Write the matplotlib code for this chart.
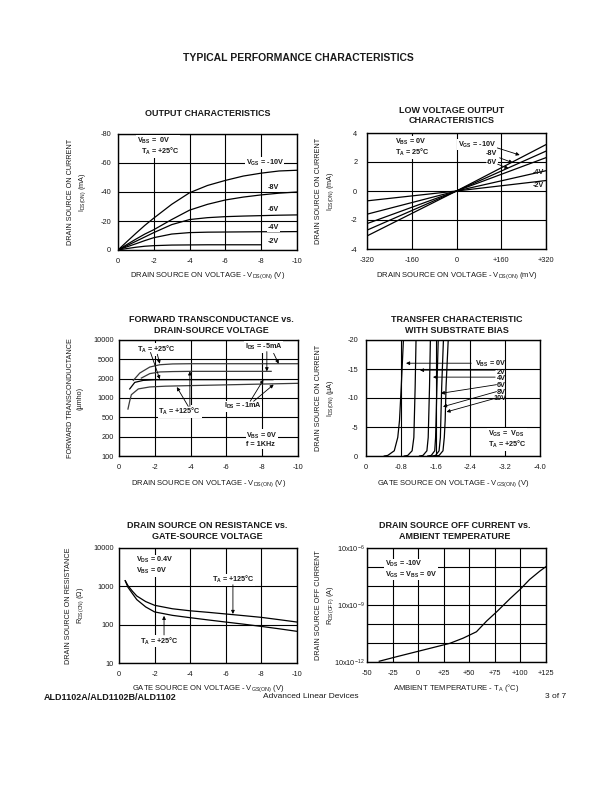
import numpy as np
import matplotlib.pyplot as plt

plt.rcParams['font.family'] = ['Liberation Sans', 'DejaVu Sans']
plt.rcParams['mathtext.fontset'] = 'custom'
plt.rcParams['mathtext.rm'] = 'Liberation Sans'
plt.rcParams['mathtext.it'] = 'Liberation Sans'
plt.rcParams['mathtext.bf'] = 'Liberation Sans:bold'
plt.rcParams['axes.unicode_minus'] = False

INK = '#1a1a1a'

# ---- output characteristics (VDS in V, ID in mA)
out_vds = [0, -0.5, -1, -1.5, -2, -3, -4, -5, -6, -7, -8, -9, -10]
out_id_10 = [0, -5.8, -11.5, -17, -22, -31.5, -39.5, -44.5, -48, -51, -53, -54.5, -55]
out_id_8 = [0, -3.8, -7.5, -11, -14, -21, -27.5, -31.5, -34.5, -36.5, -38, -39.2, -40]
out_id_6 = [0, -3, -6, -9, -12, -17.5, -21, -22.3, -23, -23.4, -23.7, -24, -24.2]
out_id_4 = [0, -2.2, -4.3, -6.5, -8.5, -11, -12, -12.3, -12.4, -12.5, -12.6, -12.6, -12.7]
out_vds_2 = [0, -0.5, -1, -1.5, -2, -3, -4, -5, -6, -7, -8]
out_id_2 = [0, -1, -1.9, -2.6, -3.0, -3.4, -3.5, -3.6, -3.6, -3.6, -3.6]

# ---- low voltage output (VDS in mV, ID in mA)
lv_vds = [-320, 0, 320]
lv_id_10 = [-3.1, 0, 3.2]
lv_id_8 = [-2.7, 0, 2.75]
lv_id_6 = [-2.25, 0, 2.3]
lv_id_4 = [-1.6, 0, 1.4]
lv_id_2 = [-0.68, 0, 0.72]

# ---- forward transconductance (umho)
gm_ticks = [100, 200, 500, 1000, 2000, 5000, 10000]
gm_v_25_5 = [-0.8, -1.16, -1.72, -2.28, -3, -4, -6, -8, -10]
gm_25_5 = [1880, 2610, 3470, 3870, 4020, 4060, 4060, 4060, 4060]
gm_v_125_5 = [-1.25, -1.72, -2.28, -3, -4, -6, -8.5]
gm_125_5 = [2060, 2540, 2750, 2800, 2830, 2830, 2830]
gm_v_25_1 = [-0.6, -0.88, -1.35, -2, -3, -5, -7, -8.6]
gm_25_1 = [1385, 1750, 1880, 1920, 1930, 1930, 1930, 1930]
gm_v_125_1 = [-0.5, -0.6, -0.69, -1.08, -1.72, -2.6, -4, -6, -8, -10]
gm_125_1 = [673, 901, 1125, 1385, 1486, 1528, 1560, 1603, 1648, 1693]

# ---- transfer characteristic (VGS in V, ID in uA)
tr_id = [0, -0.1, -0.9, -3.2, -6.1, -11.9, -20]
tr_v_0 = [-0.42, -0.5, -0.65, -0.73, -0.77, -0.81, -0.86]
tr_v_2 = [-0.88, -0.96, -1.06, -1.10, -1.11, -1.13, -1.15]
tr_v_4 = [-1.23, -1.31, -1.40, -1.43, -1.44, -1.46, -1.48]
tr_v_6 = [-1.42, -1.50, -1.58, -1.60, -1.61, -1.63, -1.66]
tr_v_8 = [-1.52, -1.60, -1.68, -1.71, -1.72, -1.74, -1.78]
tr_v_10 = [-1.60, -1.68, -1.77, -1.80, -1.82, -1.84, -1.89]
tr_labels = ['V$_{\\bf BS}$ = 0V', '2V', '4V', '6V', '8V', '10V']

# ---- on resistance (ohm)
ron_vgs = [-0.35, -0.5, -0.75, -1, -1.5, -2, -3, -4, -5, -6, -7, -8, -9, -10]
ron_125 = [1400, 1050, 750, 560, 400, 320, 260, 230, 210, 190, 172, 155, 135, 117]
ron_25 = [1400, 950, 650, 450, 290, 215, 175, 152, 133, 117, 103, 90, 78, 67]

# ---- off current (A) vs temperature
off_t = [-38, -21, -1.4, 18, 31, 44, 57, 67, 77, 90, 100, 109, 119, 125]
off_i = [1.1e-11, 1.9e-11, 3.5e-11, 6.4e-11, 9.6e-11, 1.8e-10, 3.9e-10, 1.44e-9,
         4.5e-9, 2.2e-8, 6.9e-8, 2.2e-7, 6.1e-7, 1.05e-6]

fig = plt.figure(figsize=(6.12, 7.92), dpi=100)


def rect(l, r, t, b):
    return [l / 612, 1 - b / 792, (r - l) / 612, (b - t) / 792]


def ftxt(x, y, s, **kw):
    kw.setdefault('color', INK)
    fig.text(x / 612, 1 - y / 792, s, **kw)


def style(ax, xticks, xlabels, yticks, ylabels, xpad=6, ypad=5):
    ax.set_xticks(xticks, xlabels)
    ax.set_yticks(yticks, ylabels)
    ax.minorticks_off()
    ax.grid(True, color='black', lw=0.8)
    ax.tick_params(length=0, labelsize=5.3, labelcolor=INK)
    ax.tick_params(axis='x', pad=xpad)
    ax.tick_params(axis='y', pad=ypad)
    for s in ax.spines.values():
        s.set_linewidth(1.0)


def labels(ax, xl, yl, xy=-0.225, yx=-0.23):
    ax.text(0.5, xy, xl, transform=ax.transAxes, ha='center', va='center',
            fontsize=5.5, color=INK)
    ax.text(yx, 0.5, yl, transform=ax.transAxes, ha='center', va='center',
            rotation=90, fontsize=5.2, color=INK, linespacing=1.5)


def note(ax, x, y, s, ha='left', bg=True, **kw):
    box = dict(facecolor='white', edgecolor='none', pad=0.4) if bg else None
    kw.setdefault('linespacing', 1.05)
    ax.text(x, y, s, ha=ha, va='center', fontsize=5.2, fontweight='bold',
            color=INK, bbox=box, zorder=4, **kw)


def arrow(ax, tail, head):
    ax.annotate('', xy=head, xytext=tail,
                arrowprops=dict(arrowstyle='-|>', color='black', lw=0.6,
                                mutation_scale=5, shrinkA=0, shrinkB=0),
                zorder=5)


LW = 0.9

ftxt(298, 58, 'TYPICAL PERFORMANCE CHARACTERISTICS', ha='center', va='center',
     fontsize=7.5, fontweight='bold')

# ---------------- panel 1
ax = fig.add_axes(rect(118, 297, 134, 250))
for ids in [out_id_10, out_id_8, out_id_6, out_id_4]:
    ax.plot(out_vds, ids, color='black', lw=LW)
ax.plot(out_vds_2, out_id_2, color='black', lw=LW)
ax.set_xlim(0, -10)
ax.set_ylim(0, -80)
style(ax, [0, -2, -4, -6, -8, -10], ['0', '-2', '-4', '-6', '-8', '-10'],
      [0, -20, -40, -60, -80], ['0', '-20', '-40', '-60', '-80'])
labels(ax, r'DRAIN SOURCE ON VOLTAGE - V$_{\rm DS(ON)}$ (V)',
       'DRAIN SOURCE ON CURRENT\n' + r'I$_{\rm DS(ON)}$ (mA)', xy=-0.224, yx=-0.226)
note(ax, -1.04, -71.5, r'V$_{\bf BS}$ =  0V' + '\n' + r'  T$_{\bf A}$ = +25°C')
note(ax, -8.2, -60, r'V$_{\bf GS}$ = -10V', ha='center')
for y, s in zip([-42.8, -27.8, -15.2, -5.9], ['-8V', '-6V', '-4V', '-2V']):
    note(ax, -8.7, y, s, ha='center')
ftxt(208, 113, 'OUTPUT CHARACTERISTICS', ha='center', va='center',
     fontsize=6.5, fontweight='bold')

# ---------------- panel 2
ax = fig.add_axes(rect(367, 546, 133, 249))
for ids in [lv_id_10, lv_id_8, lv_id_6, lv_id_4, lv_id_2]:
    ax.plot(lv_vds, ids, color='black', lw=LW)
ax.set_xlim(-320, 320)
ax.set_ylim(-4, 4)
style(ax, [-320, -160, 0, 160, 320], ['-320', '-160', '0', '+160', '+320'],
      [-4, -2, 0, 2, 4], ['-4', '-2', '0', '2', '4'], ypad=7)
labels(ax, r'DRAIN SOURCE ON VOLTAGE - V$_{\rm DS(ON)}$ (mV)',
       'DRAIN SOURCE ON CURRENT\n' + r'I$_{\rm DS(ON)}$ (mA)', xy=-0.233, yx=-0.233)
note(ax, -221, 3.0, r'V$_{\bf BS}$ = 0V' + '\n' + r'T$_{\bf A}$ = 25°C')
note(ax, 140, 3.2, r'V$_{\bf GS}$ = -10V', ha='right')
note(ax, 146, 2.56, '-8V', ha='right')
note(ax, 146, 2.0, '-6V', ha='right')
note(ax, 273, 1.28, '-4V', bg=False)
note(ax, 273, 0.38, '-2V', bg=False)
arrow(ax, (146, 2.97), (226, 2.48))
arrow(ax, (154, 2.29), (201, 1.95))
arrow(ax, (147, 1.85), (186, 1.55))
ftxt(452, 115.5, 'LOW VOLTAGE OUTPUT\nCHARACTERISTICS', ha='center', va='center',
     fontsize=6.5, fontweight='bold', linespacing=1.15)

# ---------------- panel 3
gm_log = np.log10(gm_ticks)


def gm_fwd(v):
    return np.interp(np.log10(np.clip(v, 1e-9, None)), gm_log, np.arange(7))


def gm_inv(p):
    return 10 ** np.interp(p, np.arange(7), gm_log)


ax = fig.add_axes(rect(119, 298, 340, 456))
ax.set_yscale('function', functions=(gm_fwd, gm_inv))
ax.plot(gm_v_25_5, gm_25_5, color='#3a3a3a', lw=LW)
ax.plot(gm_v_125_5, gm_125_5, color='#3a3a3a', lw=LW)
ax.plot(gm_v_25_1, gm_25_1, color='black', lw=LW)
ax.plot(gm_v_125_1, gm_125_1, color='#3a3a3a', lw=LW)
ax.set_xlim(0, -10)
ax.set_ylim(100, 10000)
style(ax, [0, -2, -4, -6, -8, -10], ['0', '-2', '-4', '-6', '-8', '-10'],
      gm_ticks, [str(t) for t in gm_ticks], ypad=3.5)
labels(ax, r'DRAIN SOURCE ON VOLTAGE - V$_{\rm DS(ON)}$ (V)',
       'FORWARD TRANSCONDUCTANCE\n(µmho)', xy=-0.235, yx=-0.244)
note(ax, -2.1, 7070, r'T$_{\bf A}$ = +25°C', ha='center')
arrow(ax, (-1.76, 6400), (-2.28, 1960))
arrow(ax, (-2.14, 6000), (-2.28, 4060))
note(ax, -3.4, 620, r'T$_{\bf A}$ = +125°C', ha='center')
arrow(ax, (-3.96, 741), (-3.96, 2830))
arrow(ax, (-3.87, 741), (-3.23, 1480))
note(ax, -8.07, 7800, r'I$_{\bf DS}$ = -5mA', ha='center')
arrow(ax, (-8.26, 6600), (-8.26, 2830))
arrow(ax, (-8.64, 6200), (-8.92, 4060))
note(ax, -6.9, 741, r'I$_{\bf DS}$ = -1mA', ha='center')
arrow(ax, (-7.33, 889), (-8.07, 1930))
arrow(ax, (-7.52, 889), (-8.64, 1620))
note(ax, -7.1, 180, r'V$_{\bf BS}$ = 0V' + '\n' + 'f = 1KHz')
ftxt(211, 325, 'FORWARD TRANSCONDUCTANCE vs.\nDRAIN-SOURCE VOLTAGE', ha='center',
     va='center', fontsize=6.5, fontweight='bold', linespacing=1.15)

# ---------------- panel 4
ax = fig.add_axes(rect(366, 540, 340, 456))
for vs in [tr_v_0, tr_v_2, tr_v_4, tr_v_6, tr_v_8, tr_v_10]:
    ax.plot(vs, tr_id, color='black', lw=LW)
ax.set_xlim(0, -4.0)
ax.set_ylim(0, -20)
style(ax, [0, -0.8, -1.6, -2.4, -3.2, -4.0], ['0', '-0.8', '-1.6', '-2.4', '-3.2', '-4.0'],
      [0, -5, -10, -15, -20], ['0', '-5', '-10', '-15', '-20'], ypad=5.5)
labels(ax, r'GATE SOURCE ON VOLTAGE - V$_{\rm GS(ON)}$ (V)',
       'DRAIN SOURCE ON CURRENT\n' + r'I$_{\rm DS(ON)}$ (µA)', xy=-0.235, yx=-0.234)
# one stacked label block, right aligned like the reference
note(ax, -3.22, -13.0, '\n'.join(tr_labels), ha='right', bg=False,
     multialignment='right', linespacing=0.92)
arrow(ax, (-2.42, -16.0), (-0.92, -16.0))
arrow(ax, (-2.97, -14.8), (-1.24, -14.8))
arrow(ax, (-2.97, -13.6), (-1.54, -13.6))
arrow(ax, (-3.0, -12.3), (-1.72, -10.8))
arrow(ax, (-3.0, -11.1), (-1.77, -8.5))
arrow(ax, (-2.95, -9.9), (-1.85, -7.6))
note(ax, -2.8, -2.85, r'V$_{\bf GS}$ =  V$_{\bf DS}$' + '\n' + r'T$_{\bf A}$ = +25°C')
ftxt(457, 325, 'TRANSFER CHARACTERISTIC\nWITH SUBSTRATE BIAS', ha='center',
     va='center', fontsize=6.5, fontweight='bold', linespacing=1.15)

# ---------------- panel 5
ax = fig.add_axes(rect(119, 297, 548, 663))
ax.set_yscale('log')
ax.plot(ron_vgs, ron_125, color='black', lw=LW)
ax.plot(ron_vgs, ron_25, color='black', lw=LW)
ax.set_xlim(0, -10)
ax.set_ylim(10, 10000)
style(ax, [0, -2, -4, -6, -8, -10], ['0', '-2', '-4', '-6', '-8', '-10'],
      [10, 100, 1000, 10000], ['10', '100', '1000', '10000'], ypad=3.5)
labels(ax, r'GATE SOURCE ON VOLTAGE - V$_{\rm GS(ON)}$ (V)',
       'DRAIN SOURCE ON RESISTANCE\n' + r'R$_{\rm DS(ON)}$ (Ω)', xy=-0.22, yx=-0.244)
note(ax, -0.98, 3470, r'V$_{\bf DS}$ = 0.4V' + '\n' + r'V$_{\bf BS}$ = 0V')
note(ax, -6.4, 1480, r'T$_{\bf A}$ = +125°C', ha='center')
arrow(ax, (-6.4, 1100), (-6.4, 190))
note(ax, -2.29, 37, r'T$_{\bf A}$ = +25°C', ha='center')
arrow(ax, (-2.53, 54), (-2.53, 170))
ftxt(207, 531, 'DRAIN SOURCE ON RESISTANCE vs.\nGATE-SOURCE VOLTAGE', ha='center',
     va='center', fontsize=6.5, fontweight='bold', linespacing=1.15)

# ---------------- panel 6
ax = fig.add_axes(rect(367, 546, 548, 662))
ax.set_yscale('log')
ax.plot(off_t, off_i, color='black', lw=LW)
ax.set_xlim(-50, 125)
ax.set_ylim(1e-11, 1e-5)
style(ax, [-50, -25, 0, 25, 50, 75, 100, 125],
      ['-50', '-25', '0', '+25', '+50', '+75', '+100', '+125'],
      [1e-11, 1e-10, 1e-9, 1e-8, 1e-7, 1e-6, 1e-5],
      ['10x10$^{-12}$', '', '', '10x10$^{-9}$', '', '', '10x10$^{-6}$'], ypad=1.5)
labels(ax, r'AMBIENT TEMPERATURE - T$_{\rm A}$ (°C)',
       'DRAIN SOURCE OFF CURRENT\n' + r'R$_{\rm DS(OFF)}$ (A)', xy=-0.23, yx=-0.233)
note(ax, -32.4, 7.4e-7, r'V$_{\bf DS}$ = -10V' + '\n' + r'V$_{\bf GS}$ = V$_{\bf BS}$ = 0V')
ftxt(455, 531, 'DRAIN SOURCE OFF CURRENT vs.\nAMBIENT TEMPERATURE', ha='center',
     va='center', fontsize=6.5, fontweight='bold', linespacing=1.15)

# ---------------- footer
ftxt(44, 697, 'ALD1102A/ALD1102B/ALD1102', ha='left', va='center', fontsize=6.5,
     fontweight='bold')
ftxt(311, 697, 'Advanced Linear Devices', ha='center', va='center', fontsize=6)
ftxt(566, 697, '3 of 7', ha='right', va='center', fontsize=6)

fig.savefig('out.png', dpi=100)
